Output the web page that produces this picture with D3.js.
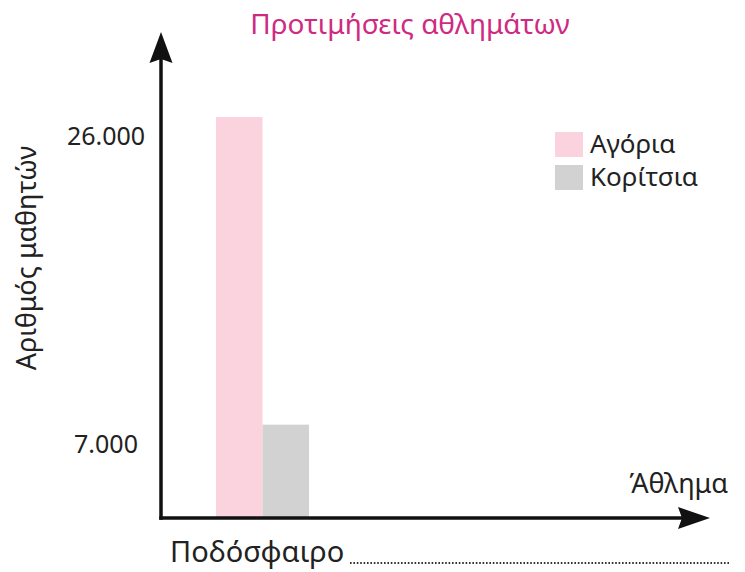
<!DOCTYPE html>
<html>
<head>
<meta charset="utf-8">
<script src="https://cdn.jsdelivr.net/npm/d3@7"></script>
<style>
  body { margin: 0; background: #fff; }
  svg { display: block; font-family: "Noto Sans", sans-serif; }
</style>
</head>
<body>
<svg></svg>
<script>
// Data
var categories = ["Ποδόσφαιρο"];
var series = ["Αγόρια", "Κορίτσια"];
var boys = [26000];
var girls = [7000];
var yTicks = [7000, 26000];
var seriesColors = ["#fad3df", "#d2d2d2"];

// Layout
var svgWidth = 745,
    svgHeight = 572,
    originX = 161,
    originY = 518,
    yTop = 32,
    xEnd = 710,
    groupLeft = 216,
    groupWidth = 93;

var svg = d3.select("svg")
  .attr("width", svgWidth)
  .attr("height", svgHeight);

// Scales
var y = d3.scaleLinear().domain([0, 26000]).range([538, 117]);
var x0 = d3.scaleBand().domain(categories).range([groupLeft, groupLeft + groupWidth]);
var x1 = d3.scaleBand().domain(series).range([0, x0.bandwidth()]);

var rows = categories.map(function (c, i) {
  return { cat: c, values: [boys[i], girls[i]] };
});

// Bars
var groups = svg.append("g").selectAll(".group")
  .data(rows)
  .enter().append("g")
  .attr("transform", function (d) { return "translate(" + [x0(d.cat), 0] + ")"; });

groups.selectAll("rect")
  .data(function (d) { return d.values.map(function (v, i) { return { key: series[i], v: v, i: i }; }); })
  .enter().append("rect")
  .attr("x", function (d) { return x1(d.key); })
  .attr("width", x1.bandwidth())
  .attr("y", function (d) { return y(d.v); })
  .attr("height", function (d) { return originY - y(d.v); })
  .style("fill", function (d) { return seriesColors[d.i]; });

// Axes
svg.append("line")
  .attr("x1", originX).attr("y1", originY + 1.75)
  .attr("x2", originX).attr("y2", yTop + 25)
  .style("stroke", "#111").style("stroke-width", 3.5);
svg.append("line")
  .attr("x1", originX - 1.75).attr("y1", originY)
  .attr("x2", xEnd - 25).attr("y2", originY)
  .style("stroke", "#111").style("stroke-width", 3.5);

svg.append("path")
  .attr("d", "M" + [originX, yTop] + "L" + [originX + 11.5, yTop + 31] + "L" + [originX, yTop + 27]
    + "L" + [originX - 11.5, yTop + 31] + "Z")
  .style("fill", "#111");
svg.append("path")
  .attr("d", "M" + [xEnd, originY] + "L" + [xEnd - 32, originY + 11] + "L" + [xEnd - 28, originY]
    + "L" + [xEnd - 32, originY - 11] + "Z")
  .style("fill", "#111");

// Y tick labels
svg.append("g").selectAll("text")
  .data(yTicks)
  .enter().append("text")
  .attr("x", 106)
  .attr("y", function (d) { return y(d) + 28; })
  .attr("text-anchor", "middle")
  .style("font-size", "25px")
  .style("fill", "#222")
  .text(function (d) { return d3.format(",")(d).replace(",", "."); });

// Title
svg.append("text")
  .attr("x", 410)
  .attr("y", 34)
  .attr("text-anchor", "middle")
  .style("font-size", "28px")
  .style("fill", "#cf2a82")
  .text("Προτιμήσεις αθλημάτων");

// Axis titles
svg.append("text")
  .attr("transform", "translate(36,258) rotate(-90)")
  .attr("text-anchor", "middle")
  .style("font-size", "27px")
  .style("fill", "#222")
  .text("Αριθμός μαθητών");

svg.append("text")
  .attr("x", 728)
  .attr("y", 493)
  .attr("text-anchor", "end")
  .style("font-size", "27px")
  .style("fill", "#222")
  .text("Άθλημα");

// Category label with dotted answer line
svg.append("g").selectAll("text")
  .data(categories)
  .enter().append("text")
  .attr("x", function (d) { return x0(d) - 46; })
  .attr("y", 562)
  .style("font-size", "29px")
  .style("fill", "#222")
  .text(function (d) { return d; });

svg.append("line")
  .attr("x1", 350).attr("y1", 563)
  .attr("x2", 730).attr("y2", 563)
  .style("stroke", "#333")
  .style("stroke-width", 2)
  .style("stroke-dasharray", "1.6,1.8");

// Legend
var legend = svg.append("g").selectAll(".legend")
  .data(series)
  .enter().append("g")
  .attr("transform", function (d, i) { return "translate(" + [555, 132 + i * 33] + ")"; });

legend.append("rect")
  .attr("width", 28)
  .attr("height", 25)
  .style("fill", function (d, i) { return seriesColors[i]; });

legend.append("text")
  .attr("x", 35)
  .attr("y", 21)
  .style("font-size", "26px")
  .style("fill", "#222")
  .text(function (d) { return d; });
</script>
</body>
</html>
